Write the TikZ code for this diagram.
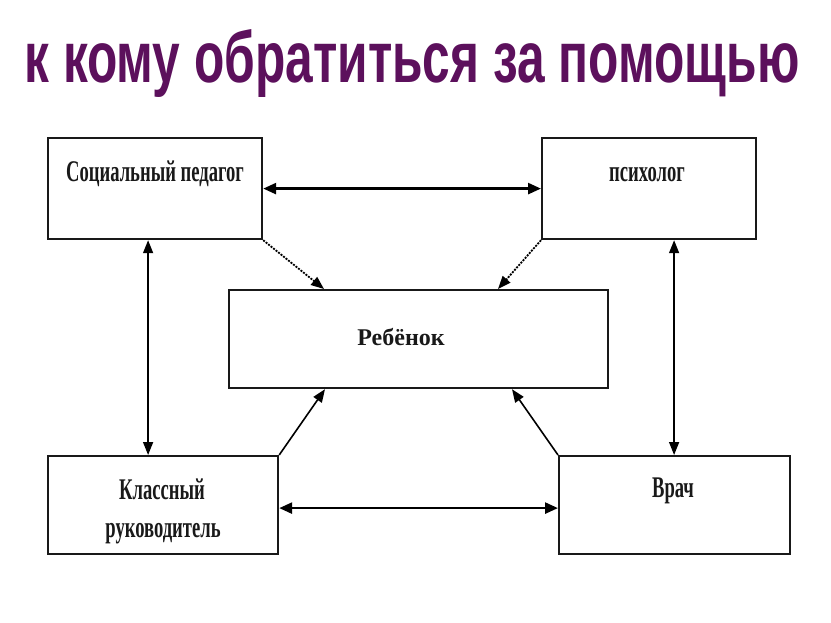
\documentclass[tikz,border=0pt]{standalone}
\usepackage{fontspec}
\setmainfont{Liberation Serif}
\newfontfamily\titlefont{Liberation Sans}
\usetikzlibrary{arrows.meta,calc}
\definecolor{titlepurple}{RGB}{92,16,92}
\definecolor{boxline}{RGB}{25,25,25}
\tikzset{
  box/.style={draw=boxline,line width=2.2pt,inner sep=0pt,anchor=north west,fill=white},
  lbl/.style={inner sep=0pt,anchor=base,text=black!90},
  conn/.style={line width=1.5pt,{Triangle[length=13pt,width=10pt]}-{Triangle[length=13pt,width=10pt]}},
  hconn/.style={line width=2.6pt,{Triangle[length=13pt,width=11pt]}-{Triangle[length=13pt,width=11pt]}},
  dconn/.style={line width=1.8pt,dash pattern=on 2pt off 1.2pt,-{Triangle[length=13pt,width=10pt]}},
  sconn/.style={line width=1.6pt,-{Triangle[length=13pt,width=10pt]}}
}
\begin{document}
\begin{tikzpicture}[x=1pt,y=-1pt]
\useasboundingbox[fill=white] (0,0) rectangle (831,623);
\node[inner sep=0pt,anchor=base,text=titlepurple] (title) at (412,83)
  {\resizebox{775pt}{53pt}{\titlefont\bfseries к кому обратиться за помощью}};
\node[box,minimum width=214pt,minimum height=101pt] (sp) at (47,137) {};
\node[box,minimum width=214pt,minimum height=101pt] (ps) at (541,137) {};
\node[box,minimum width=379pt,minimum height=98pt] (ch) at (228,289) {};
\node[box,minimum width=230pt,minimum height=98pt] (kl) at (47,455) {};
\node[box,minimum width=231pt,minimum height=98pt] (vr) at (558,455) {};
\node[lbl,font=\bfseries\fontsize{30}{30}\selectfont] (tsp) at (155,182) {\scalebox{0.62}[1]{Социальный педагог}};
\node[lbl,font=\bfseries\fontsize{30}{30}\selectfont] (tps) at (647,182) {\scalebox{0.62}[1]{психолог}};
\node[lbl,font=\bfseries\fontsize{24}{24}\selectfont] (tch) at (401,345) {Ребёнок};
\node[lbl,font=\bfseries\fontsize{30}{30}\selectfont] (tkl1) at (162,499) {\scalebox{0.62}[1]{Классный}};
\node[lbl,font=\bfseries\fontsize{30}{30}\selectfont] (tkl2) at (163,537) {\scalebox{0.62}[1]{руководитель}};
\node[lbl,font=\bfseries\fontsize{30}{30}\selectfont] (tvr) at (673,497) {\scalebox{0.62}[1]{Врач}};
\draw[hconn] (sp.east) -- (ps.west);
\draw[hconn] ([yshift=-3pt]kl.east) -- ([yshift=-3pt]vr.west);
\draw[conn] ([xshift=-7pt]sp.south) -- ([xshift=-7pt]sp.south |- kl.north);
\draw[conn] ([xshift=25pt]ps.south) -- ([xshift=25pt]ps.south |- vr.north);
\draw[dconn] (sp.south east) -- ([xshift=96pt]ch.north west);
\draw[dconn] (ps.south west) -- ([xshift=270pt]ch.north west);
\draw[sconn] (kl.north east) -- ([xshift=97pt]ch.south west);
\draw[sconn] (vr.north west) -- ([xshift=284pt]ch.south west);
\end{tikzpicture}
\end{document}
